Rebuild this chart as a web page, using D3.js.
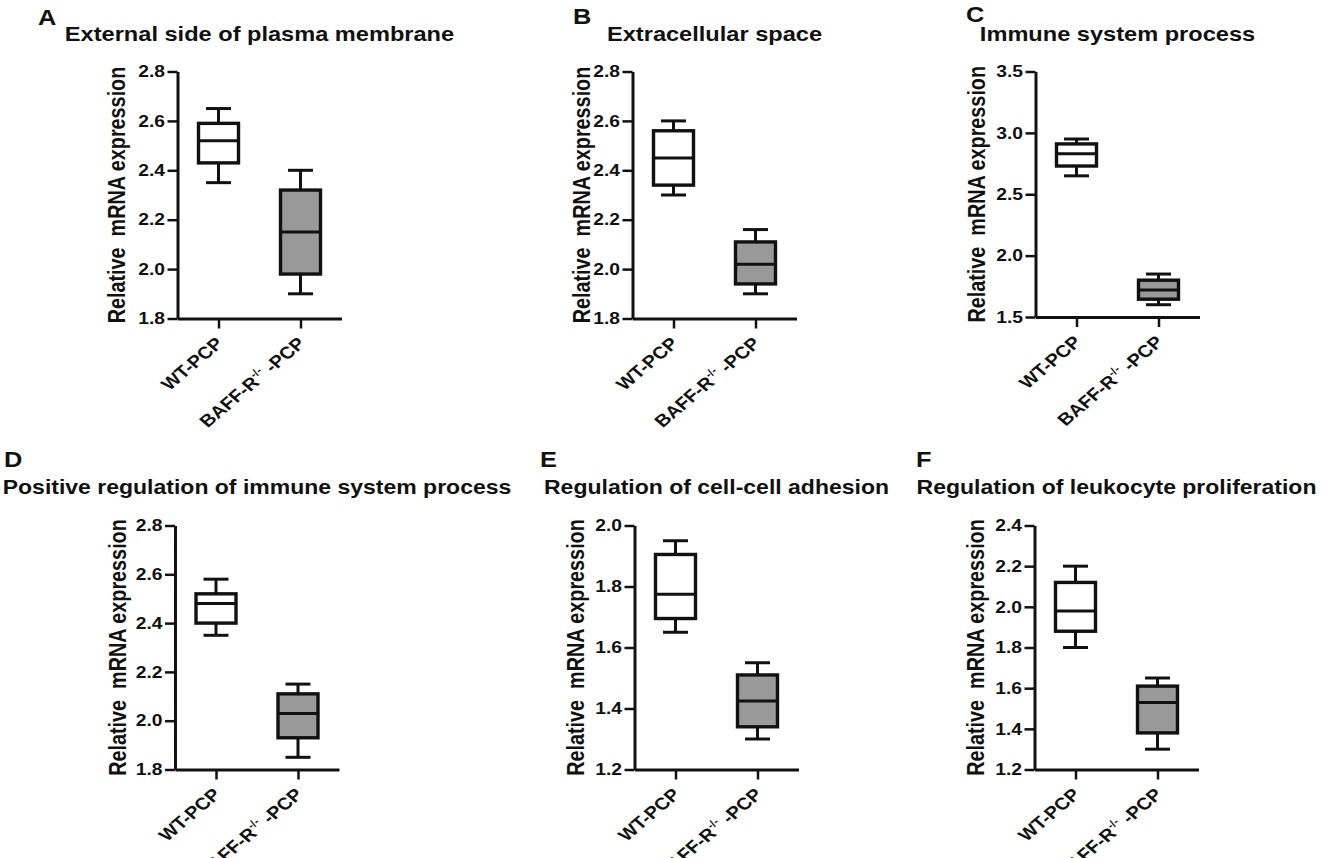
<!DOCTYPE html>
<html>
<head>
<meta charset="utf-8">
<script src="https://cdn.jsdelivr.net/npm/d3@7"></script>
<style>
  html, body { margin: 0; padding: 0; background: #fff; }
  svg { display: block; }
  text { font-family: "Liberation Sans", Arial, Helvetica, sans-serif; font-weight: bold; fill: #111; white-space: pre; }
</style>
</head>
<body>
<svg id="chart" width="1322" height="858"></svg>
<script>
// ---------- data ----------
const panelLetters = ["A", "B", "C", "D", "E", "F"];
const panelTitles = [
  "External side of plasma membrane",
  "Extracellular space",
  "Immune system process",
  "Positive regulation of immune system process",
  "Regulation of cell-cell adhesion",
  "Regulation of leukocyte proliferation"
];
const groups = ["WT-PCP", "BAFF-R-/--PCP"];
const yAxisLabel = "Relative  mRNA expression";
const yDomains = [[1.8, 2.8], [1.8, 2.8], [1.5, 3.5], [1.8, 2.8], [1.2, 2.0], [1.2, 2.4]];
const yTickValues = [
  [1.8, 2.0, 2.2, 2.4, 2.6, 2.8],
  [1.8, 2.0, 2.2, 2.4, 2.6, 2.8],
  [1.5, 2.0, 2.5, 3.0, 3.5],
  [1.8, 2.0, 2.2, 2.4, 2.6, 2.8],
  [1.2, 1.4, 1.6, 1.8, 2.0],
  [1.2, 1.4, 1.6, 1.8, 2.0, 2.2, 2.4]
];
// [min, q1, median, q3, max]
const wtStats = [
  [2.35, 2.43, 2.52, 2.59, 2.65],
  [2.30, 2.34, 2.45, 2.56, 2.60],
  [2.65, 2.73, 2.83, 2.91, 2.95],
  [2.35, 2.40, 2.48, 2.52, 2.58],
  [1.65, 1.695, 1.775, 1.905, 1.95],
  [1.80, 1.88, 1.98, 2.12, 2.20]
];
const baffStats = [
  [1.90, 1.98, 2.15, 2.32, 2.40],
  [1.90, 1.94, 2.02, 2.11, 2.16],
  [1.60, 1.645, 1.72, 1.80, 1.85],
  [1.85, 1.93, 2.03, 2.11, 2.15],
  [1.30, 1.34, 1.425, 1.51, 1.55],
  [1.30, 1.38, 1.53, 1.61, 1.65]
];

// ---------- layout ----------
const SX = 1.18;             // horizontal stretch of the original figure
const plotW = 164;
const layout = [
  { x: 177.5,  y: 71.5,  h: 247,   yl: -61, lx: 38,  ly: 24.5, ty: 40.5, tf: 20 },
  { x: 632.5,  y: 71.5,  h: 247,   yl: -51, lx: 573, ly: 23.5, ty: 40.5, tf: 20 },
  { x: 1035.5, y: 71.5,  h: 245.5, yl: -59, lx: 966, ly: 22,   ty: 40.5, tf: 20 },
  { x: 175,    y: 525.5, h: 244,   yl: -57, lx: 4,   ly: 467,  ty: 493.5, tf: 19.5 },
  { x: 634.5,  y: 525.5, h: 244,   yl: -59, lx: 540, ly: 467,  ty: 493.5, tf: 19.5 },
  { x: 1034.5, y: 525.5, h: 244,   yl: -59, lx: 916, ly: 467,  ty: 493.5, tf: 19.5 }
];
const boxW = 40, capW = 25, lw = 3;
const fills = ["#ffffff", "#999999"];

const svg = d3.select("#chart");

function tf(x, y, rot) {
  return `translate(${x},${y}) scale(${SX},1)` + (rot ? ` rotate(${rot})` : "");
}

panelTitles.forEach((title, i) => {
  const L = layout[i];
  const g = svg.append("g").attr("transform", `translate(${L.x},${L.y})`);

  const y = d3.scaleLinear().domain(yDomains[i]).range([L.h, 0]);
  const x = d3.scalePoint().domain(groups).range([0, plotW]).padding(0.5);

  // panel letter
  svg.append("text")
    .attr("transform", tf(L.lx, L.ly))
    .attr("font-size", 21.5)
    .text(panelLetters[i]);

  // title
  svg.append("text")
    .attr("transform", tf(L.x + plotW / 2, L.ty))
    .attr("text-anchor", "middle")
    .attr("font-size", L.tf)
    .text(title);

  // y axis
  const yAx = g.append("g")
    .call(d3.axisLeft(y).tickValues(yTickValues[i]).tickFormat(d3.format(".1f")).tickSize(10).tickSizeOuter(0));
  yAx.attr("font-family", null).attr("font-size", null);
  yAx.selectAll("path.domain").attr("stroke-width", lw).attr("stroke", "#111");
  yAx.selectAll(".tick line").attr("stroke-width", 2.5).attr("stroke", "#111");
  yAx.selectAll(".tick text")
    .attr("x", 0)
    .attr("transform", tf(-12.5, 0))
    .attr("font-size", 16.3)
    .style("fill", "#111");

  // x axis
  const xAx = g.append("g")
    .attr("transform", `translate(0,${L.h})`)
    .call(d3.axisBottom(x).tickSize(10).tickSizeOuter(0).tickFormat(""));
  xAx.selectAll("path.domain").attr("stroke-width", lw).attr("stroke", "#111");
  xAx.selectAll(".tick line").attr("stroke-width", 2.5).attr("stroke", "#111");

  // x tick labels (rotated)
  groups.forEach((grp, k) => {
    const t = g.append("text")
      .attr("transform", tf(x(grp) + 6, L.h + 26, -45))
      .attr("text-anchor", "end")
      .attr("font-size", 17);
    if (grp.indexOf("-/-") >= 0) {
      const parts = grp.split("-/-");
      t.append("tspan").text(parts[0]);
      t.append("tspan").attr("font-size", 10.5).attr("dy", -7).text("-/-");
      t.append("tspan").attr("dy", 7).text(" " + parts[1]);
    } else {
      t.text(grp);
    }
  });

  // y axis label
  g.append("text")
    .attr("transform", tf(L.yl, L.h / 2, -90))
    .attr("text-anchor", "middle")
    .attr("dy", "0.35em")
    .attr("font-size", 19.8)
    .text(yAxisLabel);

  // boxes
  [wtStats[i], baffStats[i]].forEach((s, k) => {
    const cx = x(groups[k]);
    const bg = g.append("g").attr("stroke", "#111").attr("stroke-width", lw).attr("fill", "none");
    // whiskers
    bg.append("line").attr("x1", cx).attr("x2", cx).attr("y1", y(s[0])).attr("y2", y(s[1]));
    bg.append("line").attr("x1", cx).attr("x2", cx).attr("y1", y(s[3])).attr("y2", y(s[4]));
    bg.append("line").attr("x1", cx - capW / 2).attr("x2", cx + capW / 2).attr("y1", y(s[0])).attr("y2", y(s[0]));
    bg.append("line").attr("x1", cx - capW / 2).attr("x2", cx + capW / 2).attr("y1", y(s[4])).attr("y2", y(s[4]));
    // box
    bg.append("rect")
      .attr("x", cx - boxW / 2).attr("width", boxW)
      .attr("y", y(s[3])).attr("height", y(s[1]) - y(s[3]))
      .attr("fill", fills[k]).attr("stroke-width", lw + 0.4);
    // median
    bg.append("line").attr("x1", cx - boxW / 2).attr("x2", cx + boxW / 2).attr("y1", y(s[2])).attr("y2", y(s[2]));
  });
});
</script>
</body>
</html>
